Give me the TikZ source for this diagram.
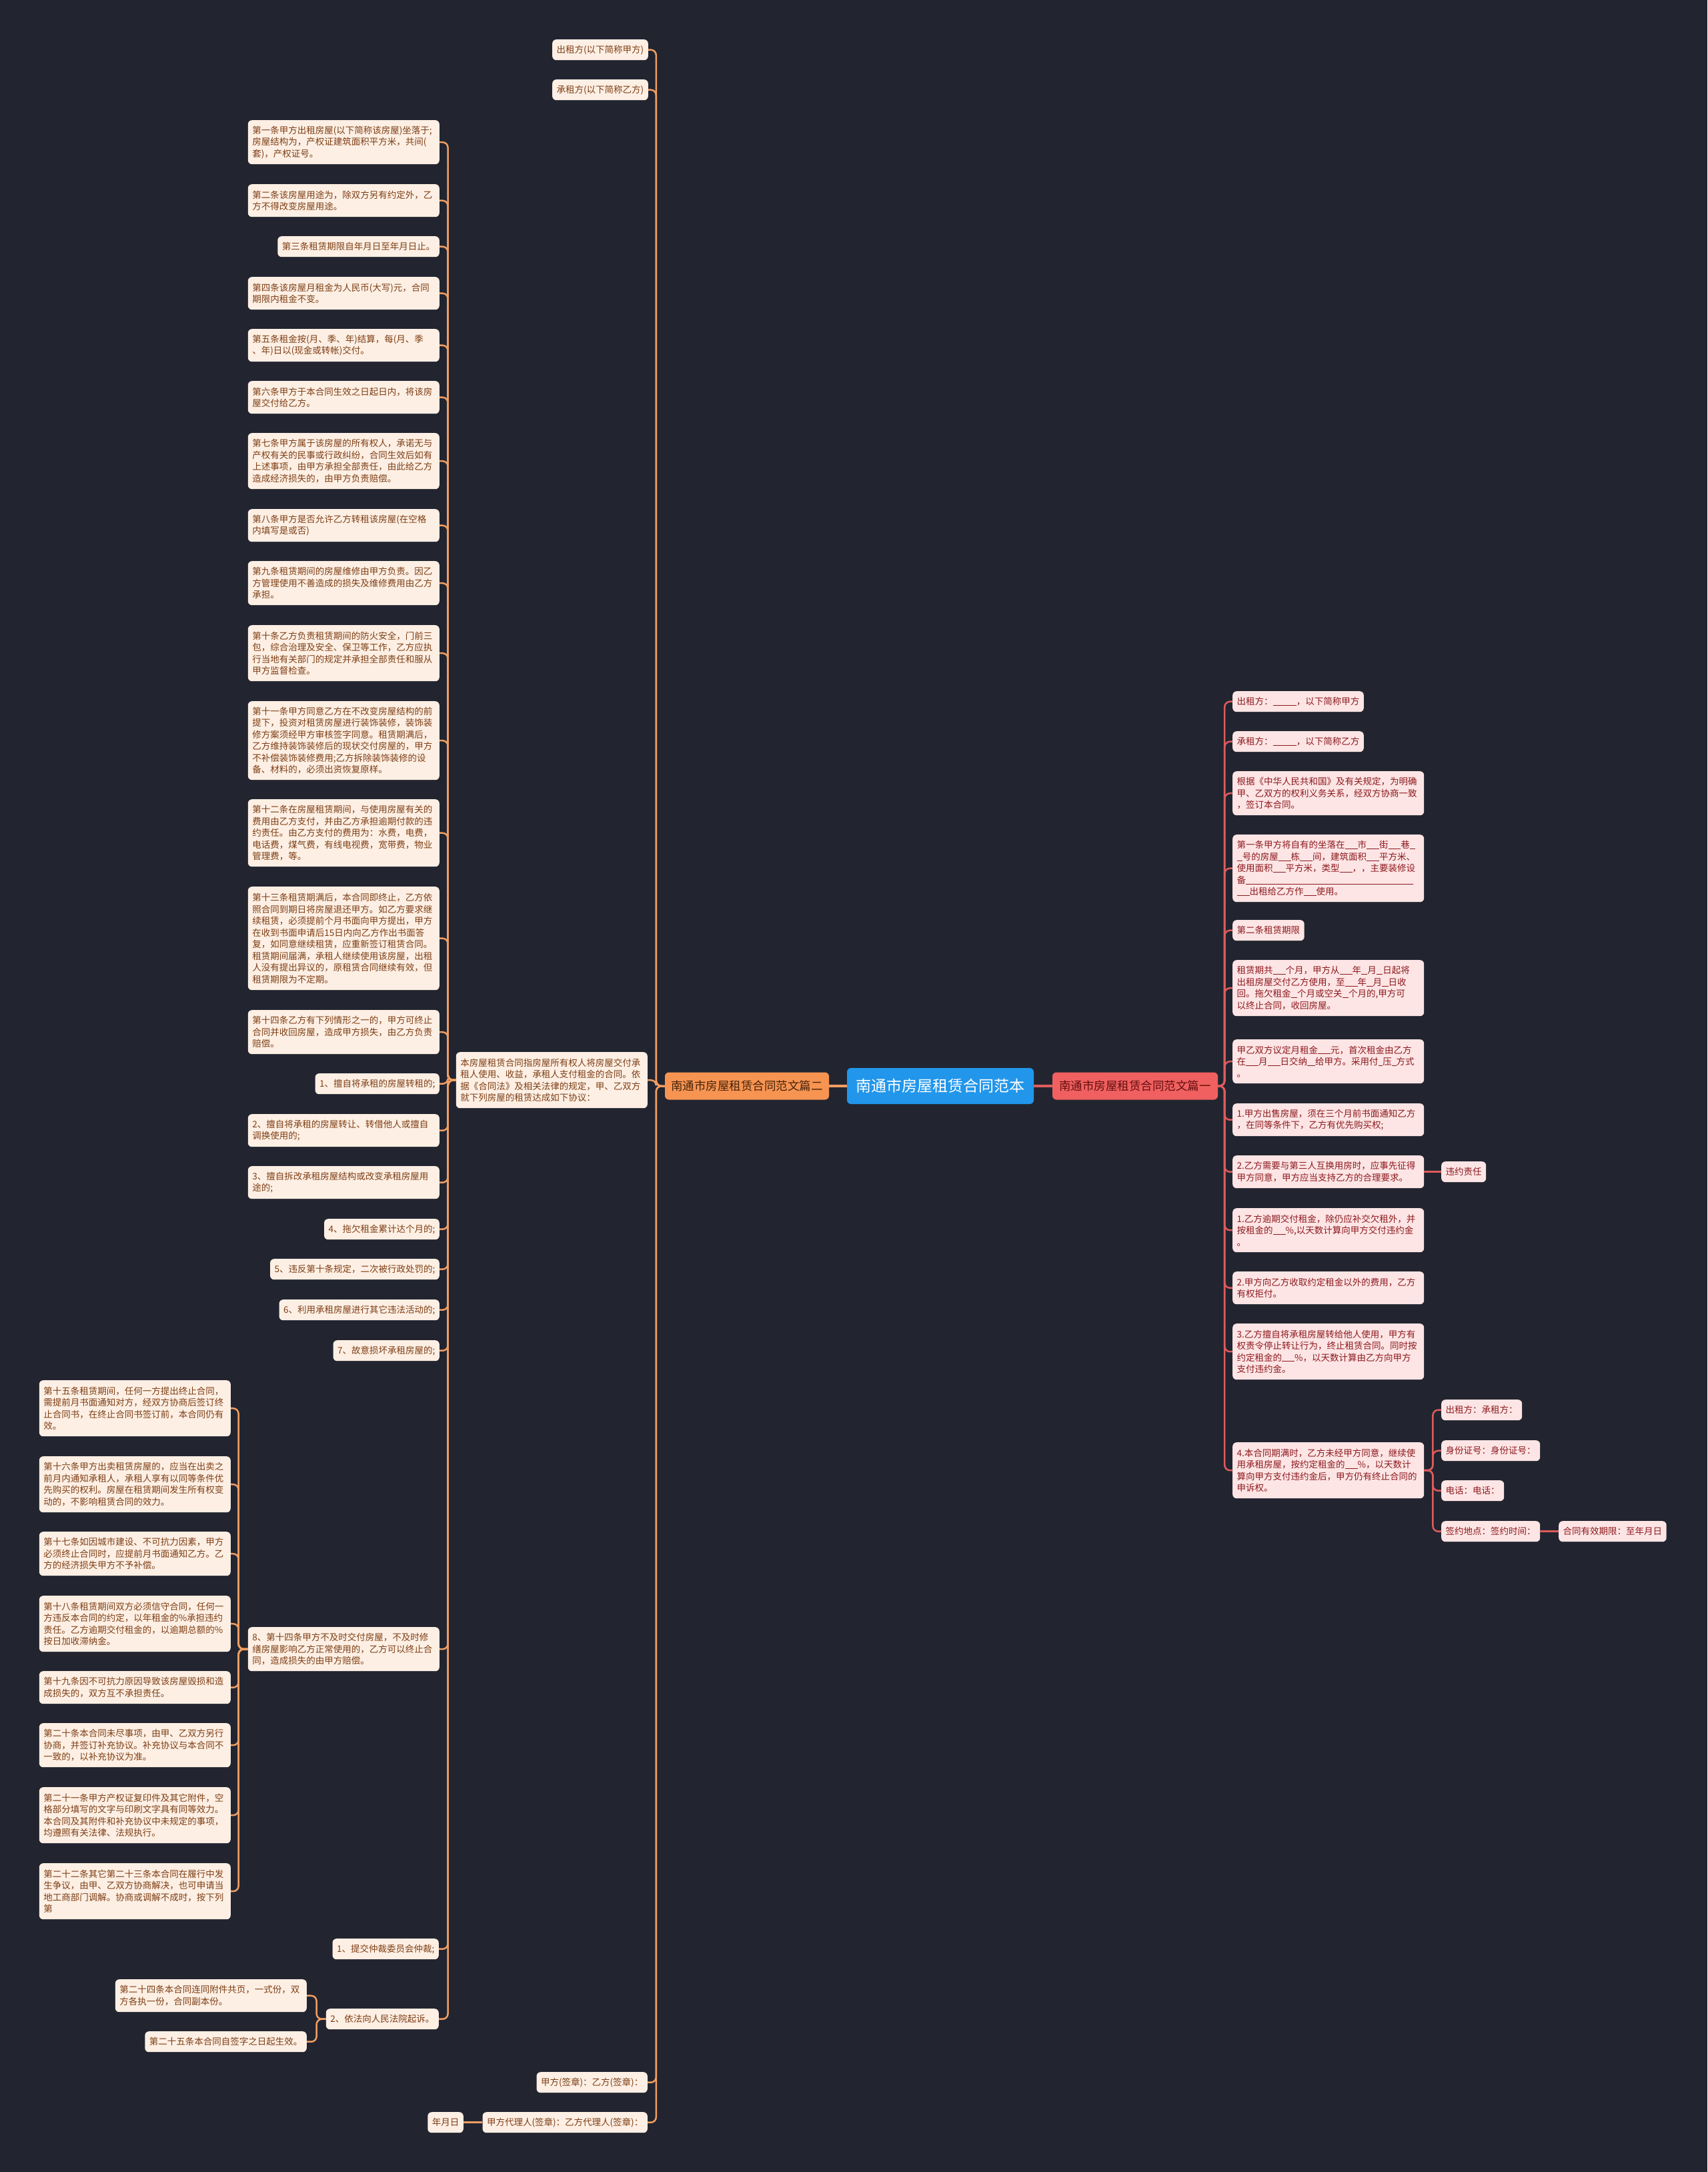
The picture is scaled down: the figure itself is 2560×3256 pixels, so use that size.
\documentclass[tikz,border=0pt]{standalone}
\usepackage{fontspec}
\setmainfont{Noto Sans CJK SC}
\definecolor{bgc}{RGB}{34,37,48}
\definecolor{lfill}{RGB}{253,239,228}
\definecolor{ltext}{RGB}{125,62,20}
\definecolor{ocol}{RGB}{240,158,98}
\definecolor{Lfill}{RGB}{247,148,82}
\definecolor{Ltext}{RGB}{70,35,10}
\definecolor{rootfill}{RGB}{33,150,235}
\definecolor{Rfill}{RGB}{240,96,96}
\definecolor{Rtext}{RGB}{100,15,15}
\definecolor{rfill}{RGB}{253,229,229}
\definecolor{rtext}{RGB}{140,25,30}
\definecolor{rcol}{RGB}{222,92,92}
\newcommand\blnk[1]{\rule[-1.2pt]{#1em}{0.9pt}}
\begin{document}
\begin{tikzpicture}[x=1pt,y=-1pt,
  base/.style={rounded corners=6pt, inner xsep=6.5pt, inner ysep=3pt,
    font=\fontsize{13.5pt}{17.5pt}\selectfont, align=left},
  lnode/.style={base, fill=lfill, text=ltext},
  rnode/.style={base, fill=rfill, text=rtext},
  wide/.style={text width=274pt},
  h1/.style={minimum height=31pt},
  h2/.style={minimum height=49pt},
  h3/.style={minimum height=66pt},
  h4/.style={minimum height=84pt},
  h5/.style={minimum height=101pt},
  h6/.style={minimum height=118pt},
  h8/.style={minimum height=155pt},
  oc/.style={draw=ocol, line width=2.5pt, rounded corners=8pt},
  rc/.style={draw=rcol, line width=2.5pt, rounded corners=8pt}]
\fill[bgc] (0,0) rectangle (2560,3256);
\useasboundingbox (0,0) rectangle (2560,3256);

% central
\node[rounded corners=6pt, fill=rootfill, text=white, font=\fontsize{23pt}{28pt}\selectfont,
  minimum width=280pt, minimum height=54pt, inner sep=0pt] (root) at (1410,1628) {南通市房屋租赁合同范本};
\node[rounded corners=6pt, fill=Lfill, text=Ltext, font=\fontsize{17.5pt}{21pt}\selectfont,
  minimum width=246pt, minimum height=41pt, inner sep=0pt] (L) at (1120,1628) {南通市房屋租赁合同范文篇二};
\node[rounded corners=6pt, fill=Rfill, text=Rtext, font=\fontsize{17.5pt}{21pt}\selectfont,
  minimum width=248pt, minimum height=41pt, inner sep=0pt] (R) at (1702,1628) {南通市房屋租赁合同范文篇一};

% ---------- left branch ----------
\node[lnode,h1,anchor=north east] (t1) at (972,59) {出租方(以下简称甲方)};
\node[lnode,h1,anchor=north east] (t2) at (972,119) {承租方(以下简称乙方)};
\node[lnode,h4,wide,anchor=north east] (desc) at (971,1577) {本房屋租赁合同指房屋所有权人将房屋交付承\\租人使用、收益，承租人支付租金的合同。依\\据《合同法》及相关法律的规定，甲、乙双方\\就下列房屋的租赁达成如下协议：};
\node[lnode,h1,anchor=north east] (sg1) at (971,3106) {甲方(签章)：乙方(签章)：};
\node[lnode,h1,anchor=north east] (sg2) at (971,3166) {甲方代理人(签章)：乙方代理人(签章)：};
\node[lnode,h1,anchor=north east] (dt) at (695,3166) {年月日};

\node[lnode,h3,wide,anchor=north east] (a1) at (659,180) {第一条甲方出租房屋(以下简称该房屋)坐落于;\\房屋结构为，产权证建筑面积平方米，共间(\\套)，产权证号。};
\node[lnode,h2,wide,anchor=north east] (a2) at (659,276) {第二条该房屋用途为，除双方另有约定外，乙\\方不得改变房屋用途。};
\node[lnode,h1,anchor=north east] (a3) at (659,354) {第三条租赁期限自年月日至年月日止。};
\node[lnode,h2,wide,anchor=north east] (a4) at (659,415) {第四条该房屋月租金为人民币(大写)元，合同\\期限内租金不变。};
\node[lnode,h2,wide,anchor=north east] (a5) at (659,493) {第五条租金按(月、季、年)结算，每(月、季\\、年)日以(现金或转帐)交付。};
\node[lnode,h2,wide,anchor=north east] (a6) at (659,571) {第六条甲方于本合同生效之日起日内，将该房\\屋交付给乙方。};
\node[lnode,h4,wide,anchor=north east] (a7) at (659,649) {第七条甲方属于该房屋的所有权人，承诺无与\\产权有关的民事或行政纠纷，合同生效后如有\\上述事项，由甲方承担全部责任，由此给乙方\\造成经济损失的，由甲方负责赔偿。};
\node[lnode,h2,wide,anchor=north east] (a8) at (659,763) {第八条甲方是否允许乙方转租该房屋(在空格\\内填写是或否)};
\node[lnode,h3,wide,anchor=north east] (a9) at (659,841) {第九条租赁期间的房屋维修由甲方负责。因乙\\方管理使用不善造成的损失及维修费用由乙方\\承担。};
\node[lnode,h4,wide,anchor=north east] (a10) at (659,937) {第十条乙方负责租赁期间的防火安全，门前三\\包，综合治理及安全、保卫等工作，乙方应执\\行当地有关部门的规定并承担全部责任和服从\\甲方监督检查。};
\node[lnode,h6,wide,anchor=north east] (a11) at (659,1051) {第十一条甲方同意乙方在不改变房屋结构的前\\提下，投资对租赁房屋进行装饰装修，装饰装\\修方案须经甲方审核签字同意。租赁期满后，\\乙方维持装饰装修后的现状交付房屋的，甲方\\不补偿装饰装修费用;乙方拆除装饰装修的设\\备、材料的，必须出资恢复原样。};
\node[lnode,h5,wide,anchor=north east] (a12) at (659,1198) {第十二条在房屋租赁期间，与使用房屋有关的\\费用由乙方支付，并由乙方承担逾期付款的违\\约责任。由乙方支付的费用为：水费，电费，\\电话费，煤气费，有线电视费，宽带费，物业\\管理费，等。};
\node[lnode,h8,wide,anchor=north east] (a13) at (659,1329) {第十三条租赁期满后，本合同即终止，乙方依\\照合同到期日将房屋退还甲方。如乙方要求继\\续租赁，必须提前个月书面向甲方提出，甲方\\在收到书面申请后15日内向乙方作出书面答\\复，如同意继续租赁，应重新签订租赁合同。\\租赁期间届满，承租人继续使用该房屋，出租\\人没有提出异议的，原租赁合同继续有效，但\\租赁期限为不定期。};
\node[lnode,h3,wide,anchor=north east] (a14) at (659,1514) {第十四条乙方有下列情形之一的，甲方可终止\\合同并收回房屋，造成甲方损失，由乙方负责\\赔偿。};
\node[lnode,h1,anchor=north east] (b1) at (659,1609) {1、擅自将承租的房屋转租的;};
\node[lnode,h2,wide,anchor=north east] (b2) at (659,1670) {2、擅自将承租的房屋转让、转借他人或擅自\\调换使用的;};
\node[lnode,h2,wide,anchor=north east] (b3) at (659,1748) {3、擅自拆改承租房屋结构或改变承租房屋用\\途的;};
\node[lnode,h1,anchor=north east] (b4) at (659,1827) {4、拖欠租金累计达个月的;};
\node[lnode,h1,anchor=north east] (b5) at (659,1887) {5、违反第十条规定，二次被行政处罚的;};
\node[lnode,h1,anchor=north east] (b6) at (659,1948) {6、利用承租房屋进行其它违法活动的;};
\node[lnode,h1,anchor=north east] (b7) at (659,2009) {7、故意损坏承租房屋的;};
\node[lnode,h3,wide,anchor=north east] (b8) at (659,2439) {8、第十四条甲方不及时交付房屋，不及时修\\缮房屋影响乙方正常使用的，乙方可以终止合\\同，造成损失的由甲方赔偿。};
\node[lnode,h1,anchor=north east] (b9) at (658,2906) {1、提交仲裁委员会仲裁;};
\node[lnode,h1,anchor=north east] (b10) at (658,3011) {2、依法向人民法院起诉。};

\node[lnode,h4,wide,anchor=north east] (c15) at (346,2069) {第十五条租赁期间，任何一方提出终止合同，\\需提前月书面通知对方，经双方协商后签订终\\止合同书，在终止合同书签订前，本合同仍有\\效。};
\node[lnode,h4,wide,anchor=north east] (c16) at (346,2183) {第十六条甲方出卖租赁房屋的，应当在出卖之\\前月内通知承租人，承租人享有以同等条件优\\先购买的权利。房屋在租赁期间发生所有权变\\动的，不影响租赁合同的效力。};
\node[lnode,h3,wide,anchor=north east] (c17) at (346,2296) {第十七条如因城市建设、不可抗力因素，甲方\\必须终止合同时，应提前月书面通知乙方。乙\\方的经济损失甲方不予补偿。};
\node[lnode,h4,wide,anchor=north east] (c18) at (346,2392) {第十八条租赁期间双方必须信守合同，任何一\\方违反本合同的约定，以年租金的\%承担违约\\责任。乙方逾期交付租金的，以逾期总额的\%\\按日加收滞纳金。};
\node[lnode,h2,wide,anchor=north east] (c19) at (346,2505) {第十九条因不可抗力原因导致该房屋毁损和造\\成损失的，双方互不承担责任。};
\node[lnode,h3,wide,anchor=north east] (c20) at (346,2583) {第二十条本合同未尽事项，由甲、乙双方另行\\协商，并签订补充协议。补充协议与本合同不\\一致的，以补充协议为准。};
\node[lnode,h4,wide,anchor=north east] (c21) at (346,2679) {第二十一条甲方产权证复印件及其它附件，空\\格部分填写的文字与印刷文字具有同等效力。\\本合同及其附件和补充协议中未规定的事项，\\均遵照有关法律、法规执行。};
\node[lnode,h4,wide,anchor=north east] (c22) at (346,2793) {第二十二条其它第二十三条本合同在履行中发\\生争议，由甲、乙双方协商解决，也可申请当\\地工商部门调解。协商或调解不成时，按下列\\第};
\node[lnode,h2,wide,anchor=north east] (d24) at (460,2967) {第二十四条本合同连同附件共页，一式份，双\\方各执一份，合同副本份。};
\node[lnode,h1,anchor=north east] (d25) at (460,3045) {第二十五条本合同自签字之日起生效。};

% ---------- right branch ----------
\node[rnode,h1,anchor=north west] (r1) at (1848,1036) {出租方：\blnk{2.6}，以下简称甲方};
\node[rnode,h1,anchor=north west] (r2) at (1848,1096) {承租方：\blnk{2.6}，以下简称乙方};
\node[rnode,h3,wide,anchor=north west] (r3) at (1848,1156) {根据《中华人民共和国》及有关规定，为明确\\甲、乙双方的权利义务关系，经双方协商一致\\，签订本合同。};
\node[rnode,h5,wide,anchor=north west] (r4) at (1848,1251) {第一条甲方将自有的坐落在\blnk{1.4}市\blnk{1.4}街\blnk{1.4}巷\blnk{0.6}\\\blnk{0.6}号的房屋\blnk{1.4}栋\blnk{1.4}间，建筑面积\blnk{1.4}平方米、\\使用面积\blnk{1.4}平方米，类型\blnk{1.4}，，主要装修设\\备\blnk{18.6}\\\blnk{1.4}出租给乙方作\blnk{1.4}使用。};
\node[rnode,h1,anchor=north west] (r5) at (1848,1379) {第二条租赁期限};
\node[rnode,h4,wide,anchor=north west] (r6) at (1848,1439) {租赁期共\blnk{1.4}个月，甲方从\blnk{1.4}年\blnk{0.7}月\blnk{0.7}日起将\\出租房屋交付乙方使用，至\blnk{1.4}年\blnk{0.7}月\blnk{0.7}日收\\回。拖欠租金\blnk{0.7}个月或空关\blnk{0.7}个月的,甲方可\\以终止合同，收回房屋。};
\node[rnode,h3,wide,anchor=north west] (r7) at (1848,1558) {甲乙双方议定月租金\blnk{1.4}元，首次租金由乙方\\在\blnk{1.4}月\blnk{1.4}日交纳\blnk{0.9}给甲方。采用付\blnk{0.5}压\blnk{0.5}方式\\。};
\node[rnode,h2,wide,anchor=north west] (r8) at (1848,1654) {1.甲方出售房屋，须在三个月前书面通知乙方\\，在同等条件下，乙方有优先购买权;};
\node[rnode,h2,wide,anchor=north west] (r9) at (1848,1732) {2.乙方需要与第三人互换用房时，应事先征得\\甲方同意，甲方应当支持乙方的合理要求。};
\node[rnode,h3,wide,anchor=north west] (r10) at (1848,1811) {1.乙方逾期交付租金，除仍应补交欠租外，并\\按租金的\blnk{1.4}\%,以天数计算向甲方交付违约金\\。};
\node[rnode,h2,wide,anchor=north west] (r11) at (1848,1906) {2.甲方向乙方收取约定租金以外的费用，乙方\\有权拒付。};
\node[rnode,h4,wide,anchor=north west] (r12) at (1848,1984) {3.乙方擅自将承租房屋转给他人使用，甲方有\\权责令停止转让行为，终止租赁合同。同时按\\约定租金的\blnk{1.4}\%，以天数计算由乙方向甲方\\支付违约金。};
\node[rnode,h4,wide,anchor=north west] (r13) at (1848,2162) {4.本合同期满时，乙方未经甲方同意，继续使\\用承租房屋，按约定租金的\blnk{1.4}\%，以天数计\\算向甲方支付违约金后，甲方仍有终止合同的\\申诉权。};
\node[rnode,h1,anchor=north west] (vy) at (2161,1741) {违约责任};
\node[rnode,h1,anchor=north west] (s1) at (2161,2098) {出租方：承租方：};
\node[rnode,h1,anchor=north west] (s2) at (2161,2159) {身份证号：身份证号：};
\node[rnode,h1,anchor=north west] (s3) at (2161,2219) {电话：电话：};
\node[rnode,h1,anchor=north west] (s4) at (2161,2280) {签约地点：签约时间：};
\node[rnode,h1,anchor=north west] (s5) at (2337,2280) {合同有效期限：至年月日};

% ---------- connectors ----------
\draw[draw=ocol, line width=3.5pt] (root.west) -- (L.east);
\draw[draw=rcol, line width=3.5pt] (root.east) -- (R.west);
\foreach \c in {t1,t2,desc,sg1,sg2}
  \draw[oc] (L.west) -- ++(-13,0) |- (\c.east);
\draw[oc] (sg2.west) -- (dt.east);
\foreach \c in {a1,a2,a3,a4,a5,a6,a7,a8,a9,a10,a11,a12,a13,a14,b1,b2,b3,b4,b5,b6,b7,b8,b9,b10}
  \draw[oc] (desc.west) -- ++(-12,0) |- (\c.east);
\foreach \c in {c15,c16,c17,c18,c19,c20,c21,c22}
  \draw[oc] (b8.west) -- ++(-14,0) |- (\c.east);
\foreach \c in {d24,d25}
  \draw[oc] (b10.west) -- ++(-14,0) |- (\c.east);
\foreach \c in {r1,r2,r3,r4,r5,r6,r7,r8,r9,r10,r11,r12,r13}
  \draw[rc] (R.east) -- ++(10,0) |- (\c.west);
\draw[rc] (r9.east) -- (vy.west);
\foreach \c in {s1,s2,s3,s4}
  \draw[rc] (r13.east) -- ++(13,0) |- (\c.west);
\draw[rc] (s4.east) -- (s5.west);
\end{tikzpicture}
\end{document}
